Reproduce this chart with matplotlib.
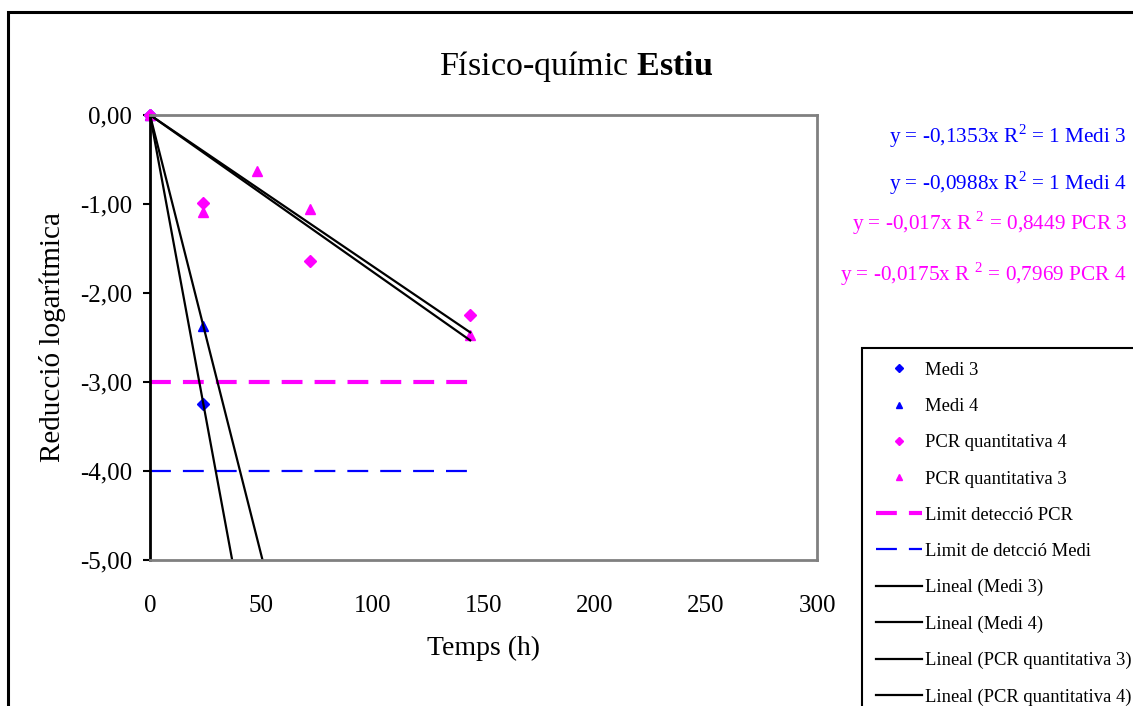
import numpy as np
import matplotlib.pyplot as plt
from matplotlib.patches import Rectangle
from matplotlib.ticker import FuncFormatter

plt.rcParams['font.family'] = ['Liberation Serif', 'DejaVu Serif']
plt.rcParams['mathtext.fontset'] = 'custom'
plt.rcParams['mathtext.rm'] = 'Liberation Serif'
plt.rcParams['mathtext.bf'] = 'Liberation Serif:bold'

# data
medi3_x = [0, 24]
medi3_y = [0, -3.247]
medi4_x = [0, 24]
medi4_y = [0, -2.371]
pcr4_x = [0, 24, 72, 144]
pcr4_y = [0, -0.99, -1.64, -2.25]
pcr3_x = [0, 24, 48, 72, 144]
pcr3_y = [0, -1.09, -0.63, -1.06, -2.47]
lim_x = [0, 144]
lim_pcr = -3
lim_medi = -4

eq_labels = ["y = -0,1353x R$^{2}$ = 1 Medi 3",
             "y = -0,0988x R$^{2}$ = 1 Medi 4",
             "y = -0,017x R $^{2}$ = 0,8449 PCR 3",
             "y = -0,0175x R $^{2}$ = 0,7969 PCR 4"]
eq_colors = ['#0000FF', '#0000FF', '#FF00FF', '#FF00FF']
eq_y = [136, 183, 223, 274]

BLUE = '#0000FF'
MAG = '#FF00FF'


def slope0(x, y):
    # least squares through origin
    x = np.array(x, float)
    y = np.array(y, float)
    return (x * y).sum() / (x * x).sum()


fig = plt.figure(figsize=(11.33, 7.06), dpi=100)
W, H = 1133, 706
ax = fig.add_axes([150 / W, 1 - 560 / H, (817 - 150) / W, (560 - 115) / H])

# figure frame
fig.patches.append(Rectangle((8 / W, -0.1), 1.2, 1 - 12 / H + 0.1, transform=fig.transFigure,
                             fill=False, ec='black', lw=2.2))

ax.plot(medi3_x, medi3_y, ls='none', marker='D', ms=6, color=BLUE, label='Medi 3', clip_on=False)
ax.plot(medi4_x, medi4_y, ls='none', marker='^', ms=7, color=BLUE, label='Medi 4', clip_on=False)
ax.plot(pcr4_x, pcr4_y, ls='none', marker='D', ms=6, color=MAG, label='PCR quantitativa 4', clip_on=False)
ax.plot(pcr3_x, pcr3_y, ls='none', marker='^', ms=7, color=MAG, label='PCR quantitativa 3', clip_on=False)
ax.plot(lim_x, [lim_pcr] * 2, ls=(0, (5, 2.9)), lw=3, color=MAG, label='Limit detecció PCR')
ax.plot(lim_x, [lim_medi] * 2, ls=(0, (9.4, 5.4)), lw=1.6, color=BLUE, label='Limit de detcció Medi')

tx = np.array([0, 144])
for xs, ys, name in [(medi3_x, medi3_y, 'Lineal (Medi 3)'),
                     (medi4_x, medi4_y, 'Lineal (Medi 4)'),
                     (pcr3_x, pcr3_y, 'Lineal (PCR quantitativa 3)'),
                     (pcr4_x, pcr4_y, 'Lineal (PCR quantitativa 4)')]:
    ax.plot(tx, slope0(xs, ys) * tx, color='black', lw=1.6, label=name)

ax.set_xlim(0, 300)
ax.set_ylim(-5, 0)
ax.set_xticks([0, 50, 100, 150, 200, 250, 300])
ax.set_yticks([0, -1, -2, -3, -4, -5])
ax.yaxis.set_major_formatter(FuncFormatter(lambda v, p: f"{v:.2f}".replace('.', ',')))
ax.tick_params(axis='both', labelsize=18)
ax.tick_params(axis='x', length=0, pad=25)
ax.tick_params(axis='y', length=5, width=1.5, direction='out', pad=8)
for s in ['top', 'right', 'bottom']:
    ax.spines[s].set_color('#808080')
    ax.spines[s].set_linewidth(2)
ax.spines['left'].set_color('black')
ax.spines['left'].set_linewidth(2)

ax.set_xlabel('Temps (h)', fontsize=20, labelpad=14)
ax.set_ylabel('Reducció logarítmica', fontsize=21, labelpad=10)

fig.text(576 / W, 1 - 66 / H, r'Físico-químic $\mathbf{Estiu}$', fontsize=24.5,
         ha='center', va='center')

for lab, c, yy in zip(eq_labels, eq_colors, eq_y):
    fig.text(1127 / W, 1 - yy / H, lab, color=c, fontsize=15.3, ha='right', va='center')

leg = fig.legend(loc='upper left', bbox_to_anchor=(862 / W, 1 - 348 / H), fontsize=13.4,
                 frameon=True, fancybox=False, edgecolor='black', framealpha=1,
                 labelspacing=1.03, handlelength=2.5, handletextpad=0.15, borderpad=0.75,
                 markerscale=0.65, borderaxespad=0)
leg.get_frame().set_linewidth(1.5)

fig.savefig('out.png', dpi=100)
